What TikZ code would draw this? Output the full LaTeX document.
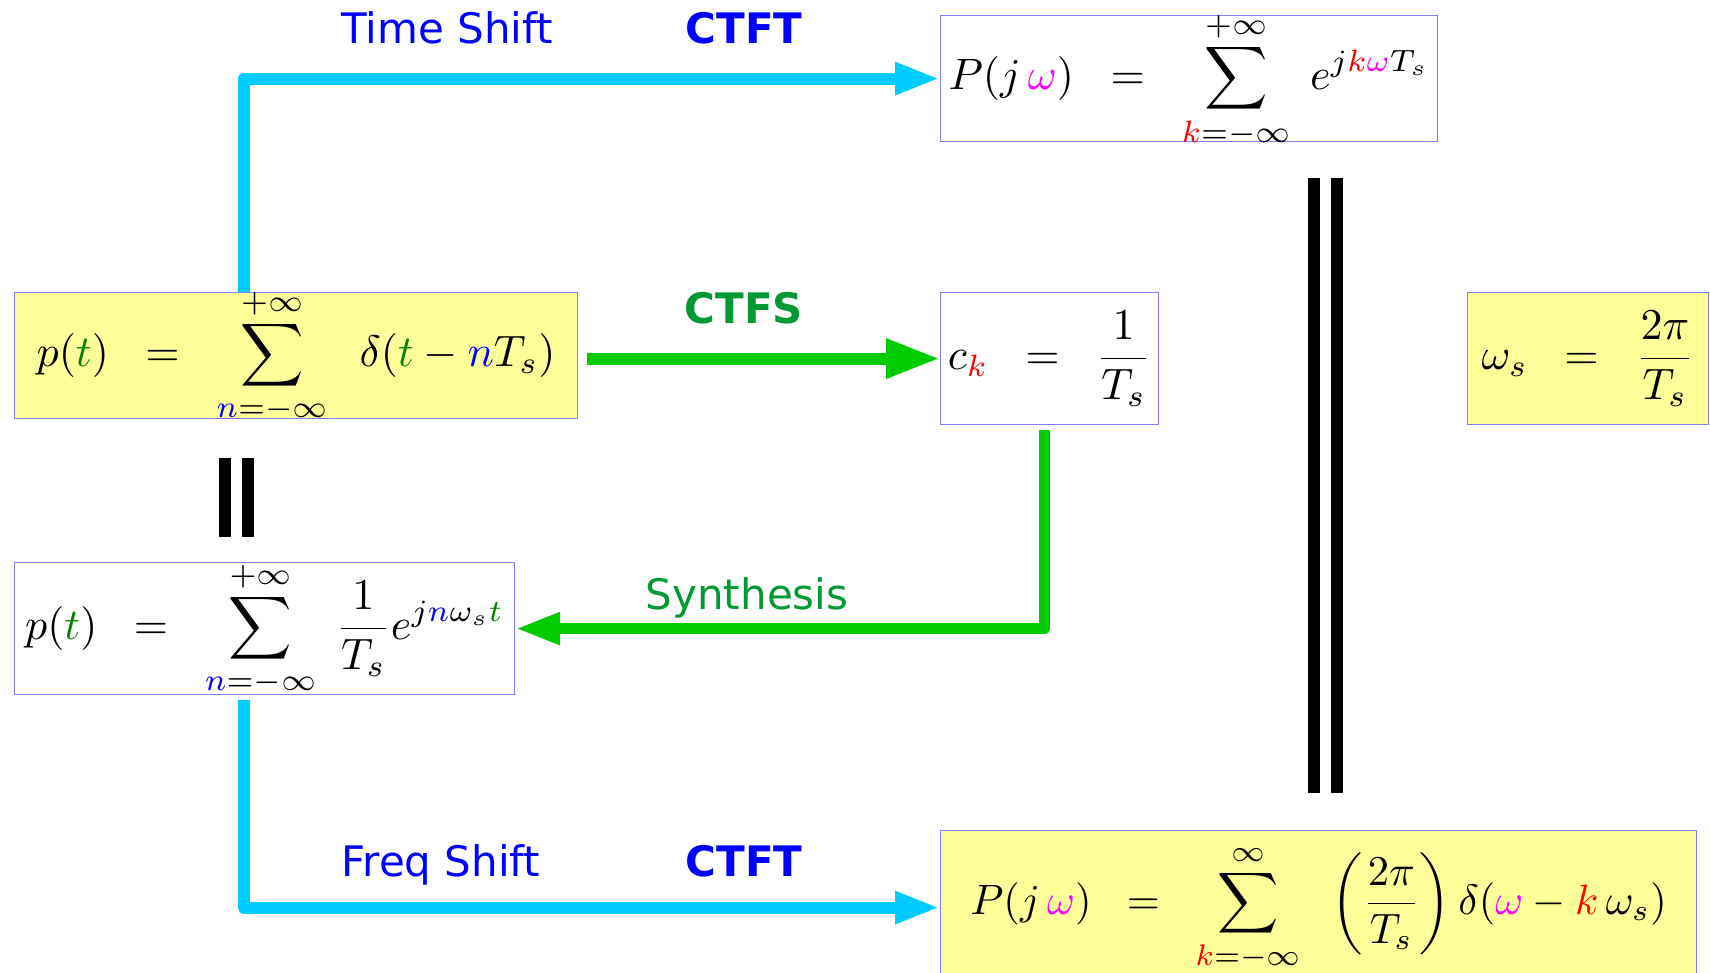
\documentclass[tikz,border=0pt]{standalone}
\usepackage{amsmath,amssymb}
\usepackage{graphicx}
\usepackage{xcolor}
\usepackage{fontspec}
\setsansfont{DejaVu Sans}
\usepackage{tikz}
\usetikzlibrary{arrows.meta,positioning,calc}
\definecolor{shiftc}{RGB}{0,204,255}
\definecolor{fsc}{RGB}{0,204,0}
\definecolor{boxc}{RGB}{128,128,255}
\definecolor{yelc}{RGB}{255,255,153}
\definecolor{labb}{RGB}{0,0,255}
\definecolor{labg}{RGB}{0,153,51}
\definecolor{tc}{RGB}{0,128,0}
\definecolor{nc}{RGB}{0,0,255}
\definecolor{kc}{RGB}{255,0,0}
\definecolor{wc}{RGB}{255,0,255}
\newcommand{\tv}{\textcolor{tc}{t}}
\newcommand{\nv}{\textcolor{nc}{n}}
\newcommand{\kv}{\textcolor{kc}{k}}
\newcommand{\wv}{\textcolor{wc}{\omega}}
% big formula, smashed so that the box keeps its size, math axis on the centre
\newdimen\eqaxis \eqaxis=2.5pt
\newcommand{\eqs}[2][4.4]{\raisebox{-#1\eqaxis}[0pt][0pt]{\scalebox{#1}{$\displaystyle #2$}}}

\begin{document}
\begin{tikzpicture}[x=1pt, y=-1pt,
  eq/.style={draw=boxc, line width=1.2pt, anchor=north west, align=center, inner sep=0pt},
  yel/.style={eq, fill=yelc},
  lab/.style={anchor=base, font=\sffamily\fontsize{42}{50}\selectfont},
  shiftarr/.style={draw=shiftc, line width=12pt, line join=round, -{Triangle[length=45pt,width=30pt]}},
  fsarr/.style={draw=fsc, line width=12pt, line join=round, -{Triangle[length=54pt,width=37pt]}},
  eqbar/.style={line width=12pt}]
  \useasboundingbox (0,0) rectangle (1710,973);
  % boxes
  \node[yel, minimum width=563pt, minimum height=126pt] (pimp) at (14,292)
    {\eqs{p(\tv)\;\;=\;\;\sum_{\nv=-\infty}^{+\infty}\;\;\delta(\tv-\nv T_s)}};
  \node[eq, minimum width=497pt, minimum height=126pt] (Pts) at (940,15)
    {\eqs{P(j\,\wv)\;\;=\;\;\sum_{\kv=-\infty}^{+\infty}\;e^{j\kv\wv T_s}}};
  \node[eq, minimum width=218pt, minimum height=132pt] (ck) at (940,292)
    {\eqs{c_{\kv}\;\;=\;\;\frac{1}{T_s}}};
  \node[yel, minimum width=241pt, minimum height=132pt] (ws) at (1467,292)
    {\eqs{\omega_s\;\;=\;\;\frac{2\pi}{T_s}}};
  \node[eq, minimum width=500pt, minimum height=132pt] (pfs) at (14,562)
    {\eqs{p(\tv)\;\;=\;\;\sum_{\nv=-\infty}^{+\infty}\;\frac{1}{T_s}e^{j\nv\omega_s\tv}}};
  \node[yel, minimum width=756pt, minimum height=146pt] (Pft) at (940,830)
    {\eqs[4.25]{P(j\,\wv)\;\;=\;\;\sum_{\kv=-\infty}^{\infty}\;\;\left(\frac{2\pi}{T_s}\right)\delta(\wv-\kv\,\omega_s)}};
  % labels
  \node[lab, text=labb] (tsl) at (447,44) {Time Shift};
  \node[lab, text=labb, font=\sffamily\bfseries\fontsize{42}{50}\selectfont] (ct1) at (744,44) {CTFT};
  \node[lab, text=labg, font=\sffamily\bfseries\fontsize{42}{50}\selectfont] (cfs) at (744,324) {CTFS};
  \node[lab, text=labg] (syn) at (747,609) {Synthesis};
  \node[lab, text=labb] (fsl) at (441,876) {Freq Shift};
  \node[lab, text=labb, font=\sffamily\bfseries\fontsize{42}{50}\selectfont] (ct2) at (744,876) {CTFT};
  % connectors
  \draw[shiftarr] ([xshift=-52.5pt]pimp.north) |- (Pts.west);
  \draw[fsarr] ([xshift=9pt]pimp.east |- ck.west) -- (ck.west);
  \draw[fsarr, line width=11pt, -{Triangle[length=45pt,width=30pt]}] ([xshift=-5pt,yshift=-5pt]ck.south) |- (pfs.east);
  \draw[shiftarr] ([xshift=-21pt,yshift=-5pt]pfs.south) |- ([yshift=-4pt]Pft.west);
  % equal signs
  \draw[eqbar] (225,458) -- (225,537);
  \draw[eqbar] (247.5,458) -- (247.5,537);
  \draw[eqbar] (1314,178) -- (1314,793);
  \draw[eqbar] (1336.5,178) -- (1336.5,793);
\end{tikzpicture}
\end{document}
